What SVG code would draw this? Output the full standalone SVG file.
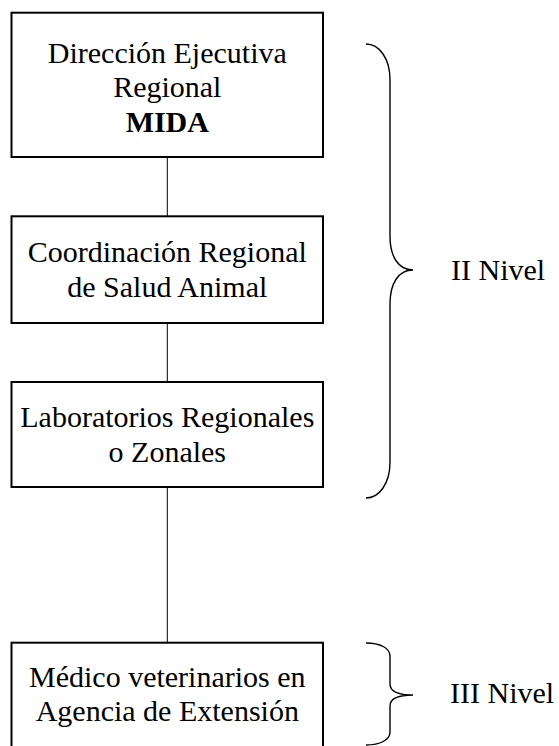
<svg xmlns="http://www.w3.org/2000/svg" width="559" height="746" viewBox="0 0 559 746">
<style>
.box{fill:#fff;stroke:#000;stroke-width:2}
.t{font-family:"Liberation Serif","Times New Roman",serif;font-size:30px;fill:#000;text-anchor:middle}
.lab{font-family:"Liberation Serif","Times New Roman",serif;font-size:30px;fill:#000}
.conn{stroke:#000;stroke-width:1;fill:none}
.brace{stroke:#000;stroke-width:1.4;fill:none}
</style>
<rect width="559" height="746" fill="#fff"/>
<g id="connectors">
<line class="conn" x1="167.3" y1="157" x2="167.3" y2="216.3"/>
<line class="conn" x1="167.3" y1="323" x2="167.3" y2="382"/>
<line class="conn" x1="167.3" y1="487" x2="167.3" y2="642.7"/>
</g>
<g id="node-direccion">
<rect class="box" x="11.5" y="12.7" width="311.5" height="144.3"/>
<text class="t" x="167.3" y="62.5">Dirección Ejecutiva</text>
<text class="t" x="167.3" y="97">Regional</text>
<text class="t" x="167.3" y="131.5" font-weight="bold">MIDA</text>
</g>
<g id="node-coordinacion">
<rect class="box" x="11.5" y="216.3" width="311.5" height="106.7"/>
<text class="t" x="167.3" y="261.7">Coordinación Regional</text>
<text class="t" x="167.3" y="296.5">de Salud Animal</text>
</g>
<g id="node-laboratorios">
<rect class="box" x="11.5" y="382" width="311.5" height="105"/>
<text class="t" x="167.3" y="426.7">Laboratorios Regionales</text>
<text class="t" x="167.3" y="461.5">o Zonales</text>
</g>
<g id="node-medico">
<rect class="box" x="11.5" y="642.7" width="311.5" height="120"/>
<text class="t" x="167.3" y="686.7">Médico veterinarios en</text>
<text class="t" x="167.3" y="720.7">Agencia de Extensión</text>
</g>
<g id="brace-II">
<path class="brace" d="M366,44 C379,44 390,58 390,80 L390,236 C390,256 398,270 413,270 C398,270 390,284 390,304 L390,462 C390,484 379,498 366,498"/>
<text class="lab" x="451" y="280">II Nivel</text>
</g>
<g id="brace-III">
<path class="brace" d="M366,643 C380,643 390,648 390,656 L390,684 C390,691 398,695 413,695 C398,695 390,699 390,706 L390,732 C390,740 380,745 366,745"/>
<text class="lab" x="450" y="703">III Nivel</text>
</g>
</svg>
